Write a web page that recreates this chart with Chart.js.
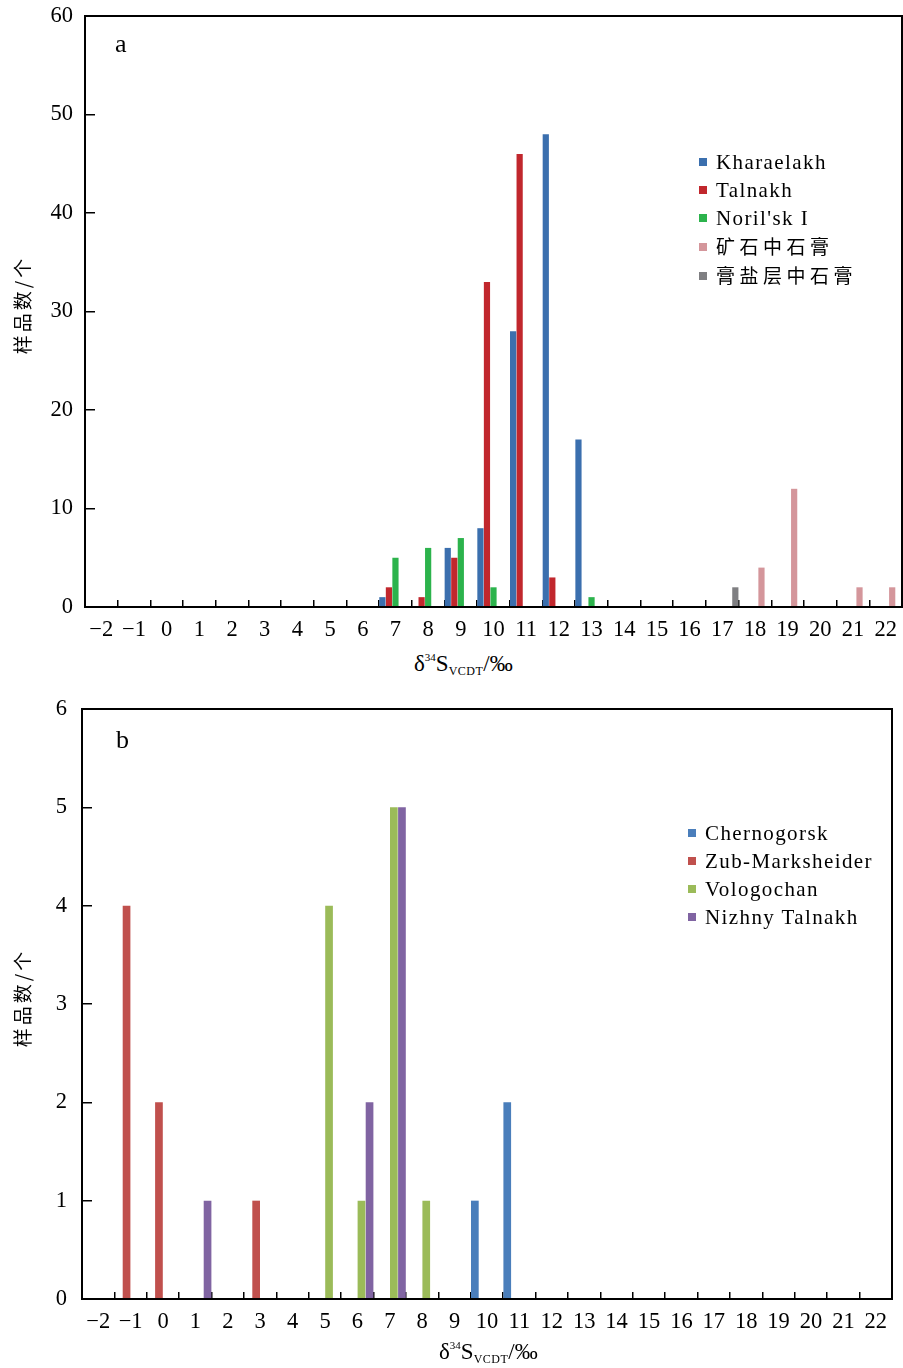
<!DOCTYPE html>
<html>
<head>
<meta charset="utf-8">
<script src="https://cdn.jsdelivr.net/npm/chart.js@4.4.1/dist/chart.umd.min.js"></script>
<style>
body { margin:0; background:#fff; width:903px; height:1368px; position:relative; overflow:hidden;
       font-family:"Liberation Serif","Noto Sans CJK SC",serif; color:#000; }
.wrap { position:absolute; left:0; width:903px; }
#wrapA { top:0; height:650px; }
#wrapB { top:680px; height:660px; }
.legend { position:absolute; font-size:21px; letter-spacing:1.4px; line-height:28px; }
.legend div { white-space:nowrap; }
.legend .sw { display:inline-block; width:8px; height:8px; margin-right:9px; vertical-align:middle; position:relative; top:-2px; }
.legend .cjk { font-family:"Noto Sans CJK SC",sans-serif; font-size:19px; letter-spacing:4.5px; }
.panel { position:absolute; font-size:26px; }
.xt { position:absolute; font-size:23px; white-space:nowrap; }
.xt sup { font-size:11px; vertical-align:10px; }
.xt sub { font-size:12px; vertical-align:-4px; letter-spacing:0.5px; }
.yt { position:absolute; width:140px; height:26px; line-height:26px; text-align:center; white-space:nowrap;
      font-family:"Noto Sans CJK SC",sans-serif; font-size:19px; letter-spacing:3px; transform:rotate(-90deg); }
</style>
</head>
<body>
<div class="wrap" id="wrapA"><canvas id="chartA"></canvas></div>
<div class="wrap" id="wrapB"><canvas id="chartB"></canvas></div>
<div class="panel" style="left:115px;top:29px;">a</div>
<div class="panel" style="left:116px;top:725px;">b</div>
<div class="xt" style="left:414px;top:651px;">δ<sup>34</sup>S<sub>VCDT</sub>/‰</div>
<div class="xt" style="left:439px;top:1339px;">δ<sup>34</sup>S<sub>VCDT</sub>/‰</div>
<div class="yt" style="left:-48px;top:292px;">样品数/个</div>
<div class="yt" style="left:-48px;top:985px;">样品数/个</div>
<div class="legend" id="legA" style="left:699px;top:148px;"></div>
<div class="legend" id="legB" style="left:688px;top:819px;"></div>
<script>
// x categories (δ34S, ‰) shared by both panels
const categories = ['−2','−1','0','1','2','3','4','5','6','7','8','9','10','11','12',
                    '13','14','15','16','17','18','19','20','21','22'];

// panel a
const namesA = ['Kharaelakh', 'Talnakh', "Noril'sk I", '矿石中石膏', '膏盐层中石膏'];
const colorsA = ['#3b6fae', '#c1272d', '#2cb34c', '#d4969b', '#7f7f82'];
const kharaelakh = [0,0,0,0,0,0,0,0,0,1,0,6,8,28,48,17,0,0,0,0,0,0,0,0,0];
const talnakh    = [0,0,0,0,0,0,0,0,0,2,1,5,33,46,3,0,0,0,0,0,0,0,0,0,0];
const norilsk    = [0,0,0,0,0,0,0,0,0,5,6,7,2,0,0,1,0,0,0,0,0,0,0,0,0];
const oreGypsum  = [0,0,0,0,0,0,0,0,0,0,0,0,0,0,0,0,0,0,0,0,4,12,0,2,2];
const saltGypsum = [0,0,0,0,0,0,0,0,0,0,0,0,0,0,0,0,0,0,0,2,0,0,0,0,0];
const yTicksA = [0, 60, 10];   // min, max, step

// panel b
const namesB = ['Chernogorsk', 'Zub-Marksheider', 'Vologochan', 'Nizhny Talnakh'];
const colorsB = ['#4a7ebb', '#c0504d', '#9bbb59', '#8064a2'];
const chernogorsk = [0,0,0,0,0,0,0,0,0,0,0,0,1,2,0,0,0,0,0,0,0,0,0,0,0];
const zub         = [0,4,2,0,0,1,0,0,0,0,0,0,0,0,0,0,0,0,0,0,0,0,0,0,0];
const vologochan  = [0,0,0,0,0,0,0,4,1,5,1,0,0,0,0,0,0,0,0,0,0,0,0,0,0];
const nizhny      = [0,0,0,1,0,0,0,0,2,5,0,0,0,0,0,0,0,0,0,0,0,0,0,0,0];
const yTicksB = [0, 6, 1];

const serif = '"Liberation Serif", "Noto Sans CJK SC", serif';
Chart.defaults.color = '#000';

// black frame round the plot area
const frame = {
    id: 'frame',
    afterDraw(chart) {
        const a = chart.chartArea, c = chart.ctx;
        c.save();
        c.strokeStyle = '#000';
        c.lineWidth = 2;
        c.strokeRect(a.left, a.top, a.right - a.left, a.bottom - a.top);
        c.restore();
    }
};

function makeChart(id, series, names, colors, yt, pad, yWidth, xHeight, yPad) {
    const datasets = [];
    for (let i = 0; i < series.length; i++) {
        datasets.push({
            label: names[i],
            data: series[i],
            backgroundColor: colors[i],
            borderWidth: 0,
            categoryPercentage: 1,
            barPercentage: 0.95
        });
    }
    return new Chart(document.getElementById(id), {
        type: 'bar',
        data: { labels: categories, datasets: datasets },
        plugins: [frame],
        options: {
            responsive: true,
            maintainAspectRatio: false,
            animation: false,
            layout: { padding: pad },
            plugins: { legend: { display: false }, tooltip: { enabled: false } },
            scales: {
                x: {
                    offset: true,
                    grid: { offset: true, drawOnChartArea: false, tickLength: -7, color: '#000', lineWidth: 1.5 },
                    border: { color: '#000', width: 2 },
                    ticks: { autoSkip: false, maxRotation: 0, padding: 17, font: { family: serif, size: 22.5 } },
                    afterFit: s => { s.height = xHeight; s.paddingLeft = 0; s.paddingRight = 0; }
                },
                y: {
                    min: yt[0], max: yt[1],
                    grid: { drawOnChartArea: false, tickLength: -10, color: '#000', lineWidth: 1.5 },
                    border: { color: '#000', width: 2 },
                    ticks: { stepSize: yt[2], padding: yPad, font: { family: serif, size: 22.5 } },
                    afterFit: s => { s.width = yWidth; s.paddingTop = 0; s.paddingBottom = 0; }
                }
            }
        }
    });
}

makeChart('chartA', [kharaelakh, talnakh, norilsk, oreGypsum, saltGypsum], namesA, colorsA,
          yTicksA, { top: 16, right: 1, left: 0, bottom: 0 }, 85, 43, 22);
makeChart('chartB', [chernogorsk, zub, vologochan, nizhny], namesB, colorsB,
          yTicksB, { top: 29, right: 11, left: 0, bottom: 0 }, 82, 41, 25);

function buildLegend(el, names, colors) {
    const box = document.getElementById(el);
    for (let i = 0; i < names.length; i++) {
        const row = document.createElement('div');
        const cjk = /[\u4e00-\u9fff]/.test(names[i]);
        row.innerHTML = '<span class="sw" style="background:' + colors[i] + '"></span>' +
            '<span' + (cjk ? ' class="cjk"' : '') + '>' + names[i] + '</span>';
        box.appendChild(row);
    }
}
buildLegend('legA', namesA, colorsA);
buildLegend('legB', namesB, colorsB);
</script>
</body>
</html>
